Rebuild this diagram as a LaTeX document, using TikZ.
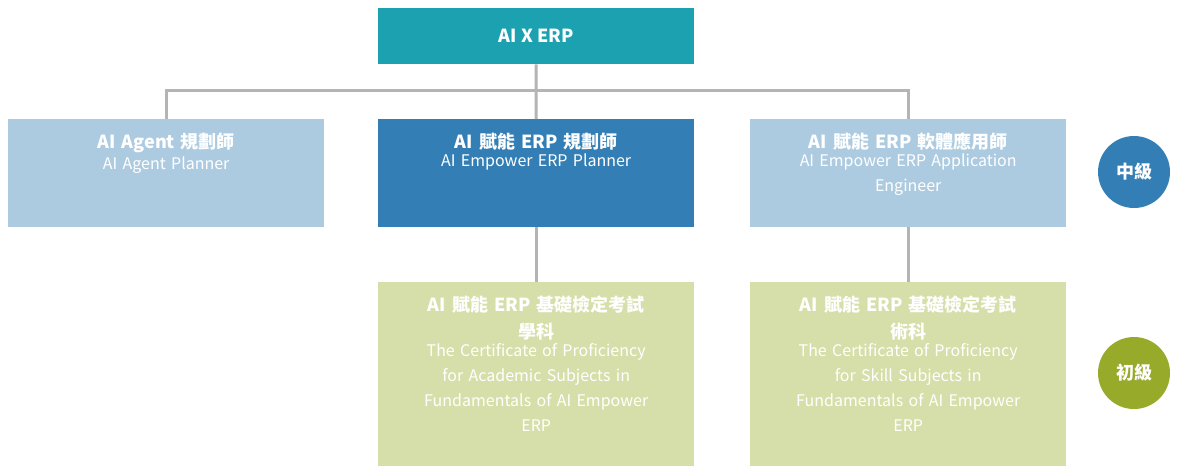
\documentclass[tikz,border=0pt]{standalone}
\usepackage{fontspec}
\setmainfont{Noto Sans CJK TC}
\usetikzlibrary{positioning}
\definecolor{topteal}{HTML}{1BA1B0}
\definecolor{midblue}{HTML}{337FB5}
\definecolor{paleblue}{HTML}{ADCBE0}
\definecolor{palegreen}{HTML}{D6DFA9}
\definecolor{olivegreen}{HTML}{97AA2A}
\definecolor{linegray}{HTML}{B4B4B4}
\tikzset{box/.style={rectangle,minimum width=316pt,anchor=north west,inner sep=0pt},
  title/.style={text=white,font=\bfseries\fontsize{18}{27}\selectfont,align=center,text width=300pt,anchor=north,inner sep=0pt},
  sub/.style={text=white,font=\fontsize{16}{25}\selectfont,align=center,text width=290pt,anchor=north,inner sep=0pt},
  level/.style={circle,minimum size=72pt,inner sep=0pt,text=white,font=\bfseries\fontsize{18}{20}\selectfont},
  link/.style={draw=linegray,line width=3pt}}
\begin{document}
\begin{tikzpicture}[x=1pt,y=-1pt]
\useasboundingbox (0,0) rectangle (1177,474);
% boxes
\node[box,fill=topteal,minimum height=56pt] (top) at (378,8) {};
\node[box,fill=paleblue,minimum height=108pt] (agent) at (8,119) {};
\node[box,fill=midblue,minimum height=108pt] (planner) at (378,119) {};
\node[box,fill=paleblue,minimum height=108pt] (engineer) at (750,119) {};
\node[box,fill=palegreen,minimum height=184pt] (academic) at (378,282) {};
\node[box,fill=palegreen,minimum height=184pt] (skill) at (750,282) {};
% texts
\node[text=white,font=\bfseries\fontsize{18}{27}\selectfont] (toptext) at (top.center) {AI X ERP};
\node[title] (agentT) at ([yshift=-14pt]agent.north) {AI Agent 規劃師};
\node[sub,below=3pt of agentT] (agentS) {AI Agent Planner};
\node[title] (plannerT) at ([yshift=-14pt]planner.north) {AI 賦能 ERP 規劃師};
\node[sub,below=3pt of plannerT] (plannerS) {AI Empower ERP Planner};
\node[title] (engineerT) at ([yshift=-14pt]engineer.north) {AI 賦能 ERP 軟體應用師};
\node[sub,below=3pt of engineerT] (engineerS) {AI Empower ERP Application\\Engineer};
\node[title] (academicT) at ([yshift=-14pt]academic.north) {AI 賦能 ERP 基礎檢定考試\\學科};
\node[sub,below=3pt of academicT] (academicS) {The Certificate of Proficiency\\for Academic Subjects in\\Fundamentals of AI Empower\\ERP};
\node[title] (skillT) at ([yshift=-14pt]skill.north) {AI 賦能 ERP 基礎檢定考試\\術科};
\node[sub,below=3pt of skillT] (skillS) {The Certificate of Proficiency\\for Skill Subjects in\\Fundamentals of AI Empower\\ERP};
% levels
\node[level,fill=midblue] (mid) at (1134,172) {中級};
\node[level,fill=olivegreen] (basic) at (1134,373) {初級};
% connectors
\coordinate (bus) at (536,90);
\draw[link] (top.south) -- (bus);
\draw[link] (agent.north) |- (bus) -| (engineer.north);
\draw[link] (bus) -- (planner.north);
\draw[link] (planner.south) -- (academic.north);
\draw[link] (engineer.south) -- (skill.north);
\end{tikzpicture}
\end{document}
